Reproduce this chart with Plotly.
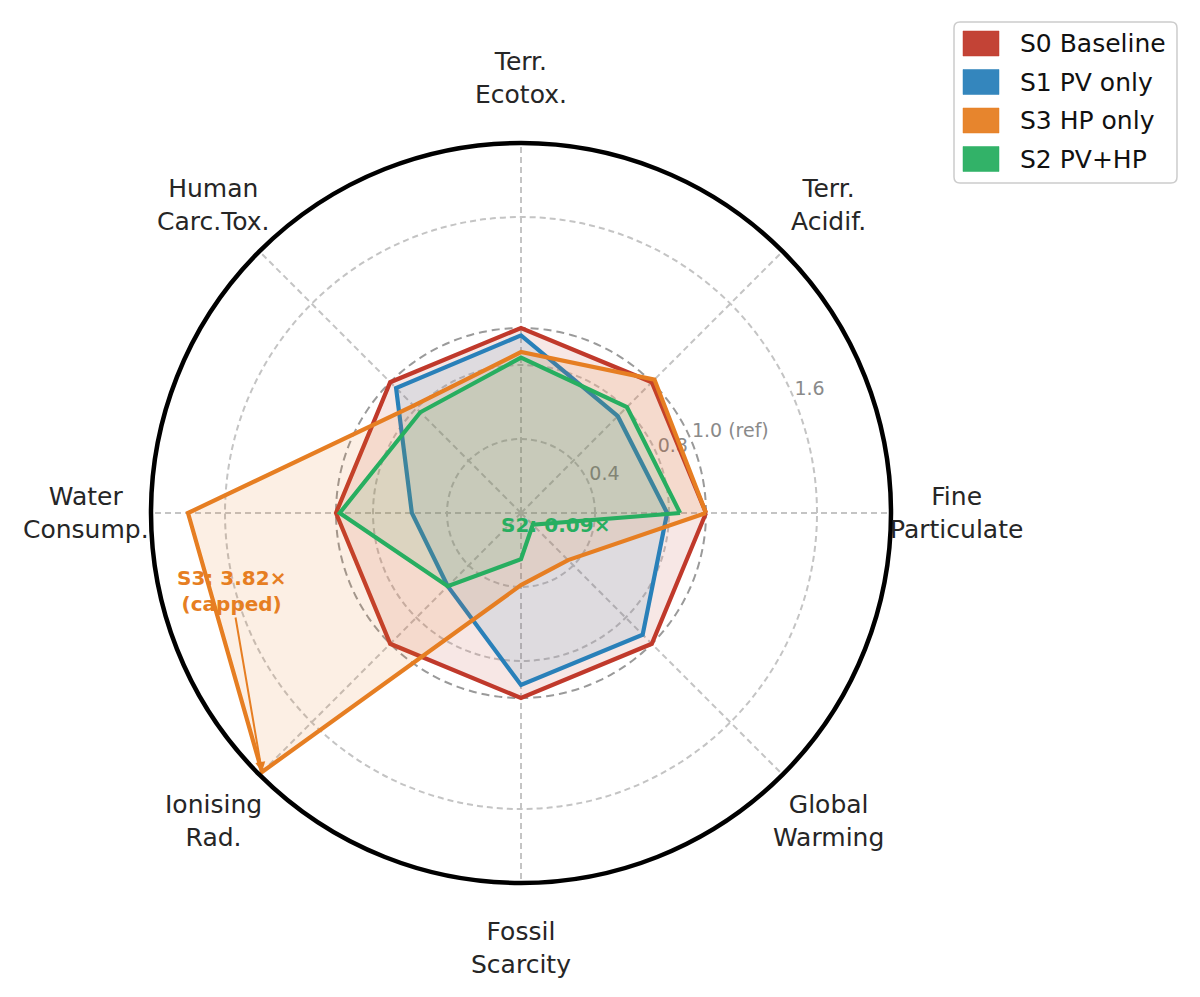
import numpy as np
import plotly.graph_objects as go

# ---------------- data ----------------
categories = ["Fine<br>Particulate", "Terr.<br>Acidif.", "Terr.<br>Ecotox.", "Human<br>Carc.Tox.",
              "Water<br>Consump.", "Ionising<br>Rad.", "Fossil<br>Scarcity", "Global<br>Warming"]
s0_baseline = [1.00, 1.00, 1.00, 1.00, 1.00, 1.00, 1.00, 1.00]
s1_pv_only = [0.79, 0.74, 0.96, 0.955, 0.59, 0.56, 0.93, 0.93]
s3_hp_only = [1.00, 1.02, 0.87, 0.82, 1.80, 3.82, 0.39, 0.36]
s2_pv_hp = [0.86, 0.81, 0.84, 0.77, 0.98, 0.56, 0.25, 0.09]
series_names = ["S0 Baseline", "S1 PV only", "S3 HP only", "S2 PV+HP"]
series_colors = ["#c0392b", "#2980b9", "#e67e22", "#27ae60"]
radial_ticks = [0.4, 0.8, 1.0, 1.6]
radial_tick_text = ["0.4", "0.8", "1.0 (ref)", "1.6"]
CAP = 1.98
RMAX = 2.0

# ---------------- geometry ----------------
W, H = 1200, 997
CX, CY, R = 521, 513, 370
UNIT = R / RMAX
R_LABEL = 435

n = len(categories)
angles = [i * 360.0 / n for i in range(n)]


def P(x, y):
    return x / W, 1 - y / H


def polar_px(r_units, deg):
    a = np.deg2rad(deg)
    return CX + r_units * UNIT * np.cos(a), CY - r_units * UNIT * np.sin(a)


def rgba(hexc, a):
    h = hexc.lstrip("#")
    return f"rgba({int(h[0:2],16)},{int(h[2:4],16)},{int(h[4:6],16)},{a})"


fig = go.Figure()

# radial tick labels (beneath polygons)
fig.add_trace(go.Scatterpolar(
    r=radial_ticks, theta=[22.5] * len(radial_ticks), mode="text",
    text=radial_tick_text, textposition="top right",
    textfont=dict(family="DejaVu Sans", size=19, color="#8a8a8a"),
    showlegend=False, hoverinfo="skip", cliponaxis=False))

# reference ring at 1.0
ring_theta = np.linspace(0, 360, 361)
fig.add_trace(go.Scatterpolar(
    r=[1.0] * len(ring_theta), theta=ring_theta, mode="lines",
    line=dict(color="#9a9a9a", width=2, dash="8px,5px"),
    showlegend=False, hoverinfo="skip"))

all_series = [s0_baseline, s1_pv_only, s3_hp_only, s2_pv_hp]
for name, vals, col in zip(series_names, all_series, series_colors):
    v = [min(x, CAP) for x in vals]
    fig.add_trace(go.Scatterpolar(
        r=v + [v[0]], theta=angles + [angles[0]], mode="lines",
        fill="toself", fillcolor=rgba(col, 0.12),
        line=dict(color=col, width=4.2), name=name, showlegend=False))

annotations = []
# category labels
for cat, ang in zip(categories, angles):
    a = np.deg2rad(ang)
    x, y = P(CX + R_LABEL * np.cos(a), CY - R_LABEL * np.sin(a))
    annotations.append(dict(x=x, y=y, xref="paper", yref="paper", text=cat, showarrow=False,
                            xanchor="center", yanchor="middle", align="center",
                            font=dict(family="DejaVu Sans", size=25, color="#262626")))

# S3 capped annotation
hx, hy = polar_px(min(s3_hp_only[5], CAP), angles[5])
px_, py_ = P(hx, hy)
annotations.append(dict(x=px_, y=py_, xref="paper", yref="paper",
                        text=f"<b>S3: {s3_hp_only[5]:.2f}×</b><br><b>(capped)</b>",
                        showarrow=True, ax=231 - hx, ay=591 - hy, axref="pixel", ayref="pixel",
                        arrowhead=2, arrowsize=1, arrowwidth=2, arrowcolor=series_colors[2],
                        standoff=0, align="center",
                        font=dict(family="DejaVu Sans", size=20, color=series_colors[2])))

# S2 min annotation
gx, gy = polar_px(s2_pv_hp[7], angles[7])
tx, ty = P(gx + 23, gy)
annotations.append(dict(x=tx, y=ty, xref="paper", yref="paper",
                        text=f"<b>S2: {s2_pv_hp[7]:.2f}×</b>", showarrow=False,
                        xanchor="center", yanchor="middle",
                        font=dict(family="DejaVu Sans", size=20, color=series_colors[3])))

# manual legend
shapes = []
bx0, by0, bx1, by1, rc = 954, 22, 1177, 183, 6


def pp(x, y):
    a, b = P(x, y)
    return f"{a:.5f},{b:.5f}"


path = (f"M{pp(bx0+rc,by0)} L{pp(bx1-rc,by0)} Q{pp(bx1,by0)} {pp(bx1,by0+rc)} "
        f"L{pp(bx1,by1-rc)} Q{pp(bx1,by1)} {pp(bx1-rc,by1)} L{pp(bx0+rc,by1)} "
        f"Q{pp(bx0,by1)} {pp(bx0,by1-rc)} L{pp(bx0,by0+rc)} Q{pp(bx0,by0)} {pp(bx0+rc,by0)} Z")
shapes.append(dict(type="path", path=path, xref="paper", yref="paper",
                   line=dict(color="#cccccc", width=1.5), fillcolor="white"))
row_y = [43.5, 82, 120.5, 159]
for name, col, yc in zip(series_names, series_colors, row_y):
    x0, y0 = P(963, yc - 12.5)
    x1, y1 = P(999, yc + 12.5)
    shapes.append(dict(type="rect", xref="paper", yref="paper", x0=x0, y0=y0, x1=x1, y1=y1,
                       line=dict(color=col, width=0.5), fillcolor=rgba(col, 0.95)))
    tx, ty = P(1018, yc)
    annotations.append(dict(x=tx, y=ty, xref="paper", yref="paper", text=name, showarrow=False,
                            xanchor="left", yanchor="middle",
                            font=dict(family="DejaVu Sans", size=25, color="#111111")))

dx0, dy0 = P(CX - R, CY + R)
dx1, dy1 = P(CX + R, CY - R)
grid_dash = "6px,4px"
fig.update_layout(
    width=W, height=H, margin=dict(l=0, r=0, t=0, b=0),
    paper_bgcolor="white", plot_bgcolor="white", showlegend=False,
    font=dict(family="DejaVu Sans"),
    polar=dict(
        domain=dict(x=[dx0, dx1], y=[dy0, dy1]),
        bgcolor="white",
        radialaxis=dict(range=[0, RMAX], tickvals=[0.4, 0.8, 1.6], showticklabels=False,
                        ticks="", showline=False, gridcolor="#c4c4c4", gridwidth=1.5,
                        griddash=grid_dash),
        angularaxis=dict(rotation=0, direction="counterclockwise", tickvals=angles,
                         showticklabels=False, ticks="", showline=True, linecolor="black",
                         linewidth=4.5, gridcolor="#c4c4c4", gridwidth=1.5, griddash=grid_dash),
    ),
    annotations=annotations, shapes=shapes,
)

fig.write_html("out.html", config={"displayModeBar": False},
               post_script="document.body.style.margin='0px';")
